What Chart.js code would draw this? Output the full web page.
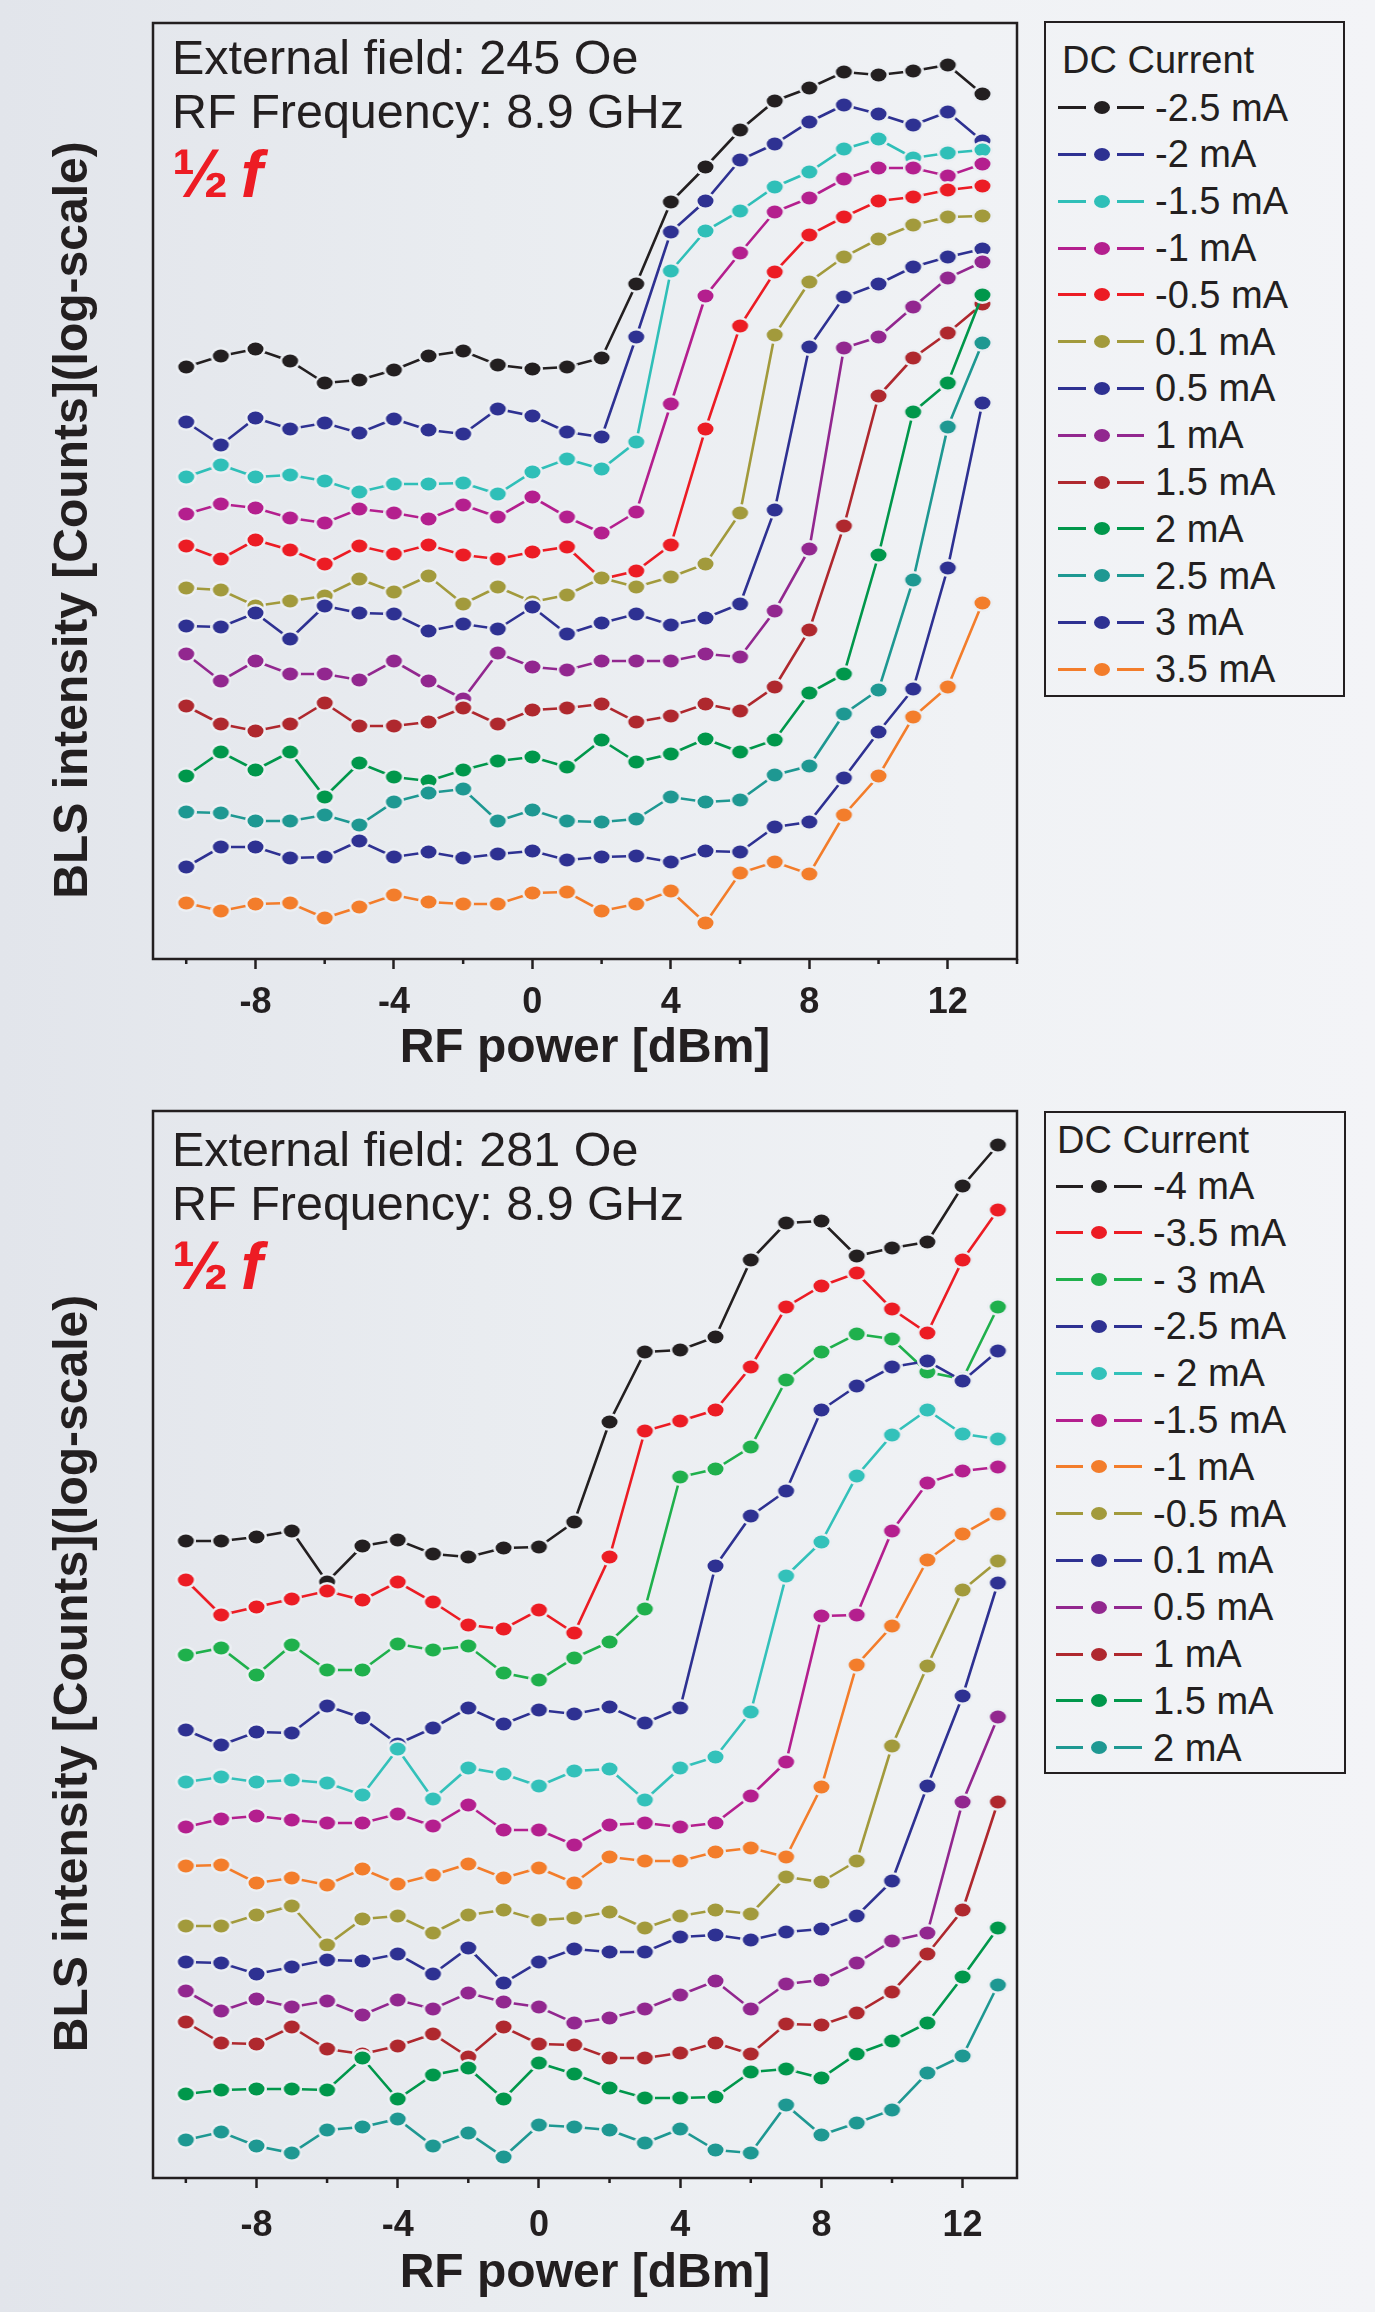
<!DOCTYPE html>
<html>
<head>
<meta charset="utf-8">
<title>BLS intensity vs RF power</title>
<script src="https://cdn.jsdelivr.net/npm/chart.js@4.4.1/dist/chart.umd.min.js"></script>
<style>
  html, body { margin: 0; padding: 0; }
  body {
    width: 1375px; height: 2312px; position: relative; overflow: hidden;
    background: linear-gradient(90deg, #e2e5eb 0%, #e9ecf0 35%, #f0f2f5 70%, #f3f4f7 100%);
    font-family: 'Liberation Sans', Arial, sans-serif; color: #231f20;
  }
  canvas { position: absolute; left: 0; }
  #topChart { top: 0; }
  #botChart { top: 1088px; }
  .box { position: absolute; box-sizing: border-box; border: 2.5px solid #231f20; }
  .lg-text { position: absolute; font-size: 38px; line-height: 44px; white-space: nowrap; }
  .lg-seg { position: absolute; height: 3px; }
  .lg-dot { position: absolute; width: 16px; height: 13px; border-radius: 50%; }
</style>
</head>
<body>
<canvas id="topChart" width="1030" height="1100"></canvas>
<canvas id="botChart" width="1030" height="1224"></canvas>
<div class="box" style="left:1044px;top:21px;width:301px;height:676px"></div>
<div class="box" style="left:1044px;top:1111px;width:302px;height:663px"></div>
<script>
const FONT = "'Liberation Sans', Arial, sans-serif";
const INK = '#231f20';
const HALO = '#eceff3';

// RF power [dBm]
const xs = [-10, -9, -8, -7, -6, -5, -4, -3, -2, -1, 0, 1, 2, 3, 4, 5, 6, 7, 8, 9, 10, 11, 12, 13];
const xTicks = [-10, -8, -6, -4, -2, 0, 2, 4, 6, 8, 10, 12, 14];
const minorTicks = [-10, -6, -2, 2, 6, 10, 14];

// upper panel: 245 Oe (intensity in arbitrary log units)
const topLabels = ['-2.5 mA', '-2 mA', '-1.5 mA', '-1 mA', '-0.5 mA', '0.1 mA', '0.5 mA', '1 mA', '1.5 mA', '2 mA', '2.5 mA', '3 mA', '3.5 mA'];
const topColors = ['#231f20', '#2e3192', '#2fbfb8', '#b41f8e', '#ec1c24', '#a29a3c', '#2e3192', '#92278f', '#af282e', '#00974b', '#1e9892', '#2e3192', '#f37d2b'];
const topM25 = [5.92, 6.03, 6.10, 5.98, 5.76, 5.79, 5.89, 6.03, 6.08, 5.94, 5.90, 5.92, 6.01, 6.75, 7.57, 7.92, 8.29, 8.58, 8.71, 8.87, 8.84, 8.88, 8.94, 8.65];
const topM20 = [5.37, 5.14, 5.41, 5.30, 5.36, 5.26, 5.40, 5.29, 5.25, 5.50, 5.43, 5.27, 5.22, 6.22, 7.27, 7.58, 7.99, 8.15, 8.37, 8.54, 8.45, 8.34, 8.47, 8.18];
const topM15 = [4.82, 4.94, 4.82, 4.84, 4.78, 4.67, 4.75, 4.75, 4.76, 4.65, 4.87, 5.00, 4.90, 5.17, 6.88, 7.28, 7.48, 7.72, 7.87, 8.10, 8.20, 8.01, 8.06, 8.09];
const topM10 = [4.45, 4.55, 4.51, 4.41, 4.36, 4.50, 4.46, 4.40, 4.54, 4.42, 4.62, 4.42, 4.26, 4.47, 5.55, 6.63, 7.06, 7.47, 7.61, 7.80, 7.91, 7.91, 7.83, 7.95];
const topM05 = [4.13, 4.00, 4.19, 4.09, 3.95, 4.13, 4.05, 4.14, 4.04, 4.00, 4.07, 4.12, 3.80, 3.88, 4.14, 5.30, 6.33, 6.87, 7.24, 7.42, 7.58, 7.62, 7.69, 7.73];
const topP01 = [3.71, 3.69, 3.53, 3.58, 3.63, 3.80, 3.67, 3.83, 3.55, 3.72, 3.57, 3.64, 3.81, 3.72, 3.82, 3.95, 4.46, 6.24, 6.77, 7.02, 7.20, 7.34, 7.42, 7.43];
const topP05 = [3.33, 3.32, 3.46, 3.20, 3.53, 3.46, 3.45, 3.28, 3.35, 3.30, 3.52, 3.25, 3.36, 3.45, 3.34, 3.41, 3.55, 4.49, 6.12, 6.62, 6.75, 6.92, 7.02, 7.10];
const topP10 = [3.05, 2.78, 2.98, 2.85, 2.85, 2.79, 2.98, 2.78, 2.60, 3.06, 2.92, 2.89, 2.98, 2.98, 2.98, 3.05, 3.02, 3.48, 4.10, 6.11, 6.22, 6.52, 6.81, 6.97];
const topP15 = [2.53, 2.35, 2.28, 2.35, 2.56, 2.33, 2.33, 2.37, 2.51, 2.35, 2.49, 2.51, 2.55, 2.37, 2.43, 2.55, 2.48, 2.72, 3.29, 4.33, 5.63, 6.01, 6.26, 6.55];
const topP20 = [1.83, 2.07, 1.89, 2.07, 1.62, 1.96, 1.82, 1.78, 1.89, 1.98, 2.02, 1.92, 2.19, 1.97, 2.05, 2.20, 2.07, 2.19, 2.66, 2.85, 4.04, 5.47, 5.76, 6.64];
const topP25 = [1.47, 1.46, 1.38, 1.38, 1.44, 1.34, 1.57, 1.66, 1.70, 1.38, 1.49, 1.38, 1.37, 1.40, 1.62, 1.57, 1.59, 1.84, 1.93, 2.45, 2.69, 3.79, 5.32, 6.16];
const topP30 = [0.92, 1.12, 1.12, 1.01, 1.02, 1.18, 1.02, 1.07, 1.01, 1.05, 1.08, 0.99, 1.02, 1.03, 0.97, 1.08, 1.07, 1.32, 1.37, 1.81, 2.27, 2.70, 3.91, 5.56];
const topP35 = [0.56, 0.48, 0.55, 0.56, 0.41, 0.52, 0.64, 0.57, 0.55, 0.55, 0.66, 0.67, 0.48, 0.55, 0.68, 0.36, 0.86, 0.97, 0.85, 1.44, 1.83, 2.42, 2.72, 3.56];

// lower panel: 281 Oe
const botLabels = ['-4 mA', '-3.5 mA', '- 3 mA', '-2.5 mA', '- 2 mA', '-1.5 mA', '-1 mA', '-0.5 mA', '0.1 mA', '0.5 mA', '1 mA', '1.5 mA', '2 mA'];
const botColors = ['#231f20', '#ec1c24', '#1fb04c', '#2e3192', '#33c1ba', '#b41f8e', '#f37d2b', '#a29a3c', '#2e3192', '#92278f', '#af282e', '#00974b', '#1e9892'];
const botM40 = [6.37, 6.37, 6.41, 6.47, 5.96, 6.32, 6.38, 6.24, 6.21, 6.30, 6.31, 6.56, 7.56, 8.26, 8.28, 8.41, 9.18, 9.55, 9.57, 9.22, 9.30, 9.36, 9.92, 10.33];
const botM35 = [5.98, 5.63, 5.71, 5.79, 5.87, 5.78, 5.96, 5.76, 5.53, 5.49, 5.68, 5.45, 6.21, 7.47, 7.57, 7.68, 8.11, 8.71, 8.92, 9.05, 8.69, 8.45, 9.18, 9.68];
const botM30 = [5.23, 5.30, 5.03, 5.33, 5.08, 5.08, 5.34, 5.28, 5.32, 5.05, 4.98, 5.20, 5.36, 5.69, 7.01, 7.09, 7.31, 7.98, 8.26, 8.44, 8.39, 8.06, 7.99, 8.71];
const botM25 = [4.48, 4.33, 4.46, 4.45, 4.72, 4.60, 4.34, 4.50, 4.70, 4.54, 4.68, 4.64, 4.71, 4.55, 4.70, 6.12, 6.62, 6.87, 7.68, 7.92, 8.11, 8.17, 7.97, 8.27];
const botM20 = [3.96, 4.01, 3.96, 3.98, 3.95, 3.83, 4.29, 3.79, 4.10, 4.04, 3.92, 4.07, 4.09, 3.78, 4.10, 4.21, 4.66, 6.02, 6.36, 7.02, 7.43, 7.68, 7.44, 7.39];
const botM15 = [3.51, 3.59, 3.62, 3.58, 3.55, 3.55, 3.64, 3.52, 3.73, 3.48, 3.48, 3.33, 3.53, 3.55, 3.51, 3.55, 3.82, 4.16, 5.62, 5.63, 6.47, 6.95, 7.07, 7.11];
const botM10 = [3.12, 3.13, 2.95, 3.00, 2.93, 3.09, 2.94, 3.03, 3.14, 3.00, 3.10, 2.95, 3.21, 3.17, 3.17, 3.26, 3.30, 3.21, 3.91, 5.13, 5.52, 6.18, 6.44, 6.64];
const botM05 = [2.52, 2.52, 2.63, 2.72, 2.33, 2.59, 2.62, 2.45, 2.63, 2.68, 2.58, 2.60, 2.66, 2.50, 2.62, 2.68, 2.64, 3.01, 2.96, 3.17, 4.32, 5.12, 5.88, 6.17];
const botP01 = [2.16, 2.15, 2.04, 2.11, 2.18, 2.17, 2.24, 2.04, 2.30, 1.95, 2.16, 2.29, 2.26, 2.26, 2.41, 2.43, 2.38, 2.46, 2.49, 2.62, 2.97, 3.92, 4.82, 5.95];
const botP05 = [1.87, 1.67, 1.79, 1.71, 1.77, 1.63, 1.78, 1.69, 1.85, 1.76, 1.71, 1.55, 1.60, 1.69, 1.83, 1.97, 1.69, 1.94, 1.98, 2.15, 2.37, 2.45, 3.76, 4.61];
const botP10 = [1.56, 1.35, 1.34, 1.51, 1.29, 1.24, 1.32, 1.44, 1.21, 1.51, 1.34, 1.33, 1.20, 1.20, 1.25, 1.35, 1.24, 1.54, 1.53, 1.65, 1.86, 2.24, 2.68, 3.76];
const botP15 = [0.84, 0.88, 0.89, 0.89, 0.88, 1.20, 0.79, 1.03, 1.10, 0.79, 1.15, 1.04, 0.90, 0.80, 0.80, 0.81, 1.06, 1.09, 1.00, 1.24, 1.37, 1.55, 2.01, 2.50];
const botP20 = [0.38, 0.46, 0.32, 0.25, 0.48, 0.51, 0.59, 0.32, 0.45, 0.21, 0.53, 0.51, 0.48, 0.35, 0.49, 0.28, 0.25, 0.73, 0.43, 0.55, 0.68, 1.05, 1.22, 1.93];

// oval marker with a gap ring, like the symbols of the original plot
function dotImage(color) {
  const w = 16, h = 13, pad = 2.5;
  const c = document.createElement('canvas');
  c.width = w + 2 * pad; c.height = h + 2 * pad;
  const g = c.getContext('2d');
  g.fillStyle = HALO;
  g.beginPath(); g.ellipse(c.width / 2, c.height / 2, w / 2 + pad, h / 2 + pad, 0, 0, Math.PI * 2); g.fill();
  g.fillStyle = color;
  g.beginPath(); g.ellipse(c.width / 2, c.height / 2, w / 2, h / 2, 0, 0, Math.PI * 2); g.fill();
  return c;
}

// frame, minor ticks, y title and the notes in the corner
const decor = {
  id: 'decor',
  afterDraw(chart, args, o) {
    const { ctx, chartArea: a } = chart;
    const x = chart.scales.x;
    ctx.save();
    ctx.strokeStyle = INK;
    ctx.lineWidth = 2.5;
    ctx.strokeRect(a.left, a.top, a.right - a.left, a.bottom - a.top);
    ctx.beginPath();
    minorTicks.filter(v => v <= x.max).forEach(v => {
      const px = x.getPixelForValue(v);
      ctx.moveTo(px, a.bottom);
      ctx.lineTo(px, a.bottom + 5);
    });
    ctx.stroke();

    ctx.fillStyle = INK;
    ctx.font = 'bold 48px ' + FONT;
    ctx.textAlign = 'center';
    ctx.textBaseline = 'middle';
    ctx.save();
    ctx.translate(74, (a.top + a.bottom) / 2 + 29);
    ctx.rotate(-Math.PI / 2);
    ctx.fillText('BLS intensity [Counts](log-scale)', 0, 0);
    ctx.restore();

    ctx.textAlign = 'left';
    ctx.textBaseline = 'alphabetic';
    ctx.font = '48.5px ' + FONT;
    const lx = a.left + 19;
    ctx.fillText('External field: ' + o.field, lx, a.top + o.noteY[0]);
    ctx.fillText('RF Frequency: ' + o.freq, lx, a.top + o.noteY[1]);
    ctx.fillStyle = '#ed1c24';
    ctx.font = 'bold 68px ' + FONT;
    ctx.fillText('\u00bd', lx, a.top + o.noteY[2]);
    const w = ctx.measureText('\u00bd').width;
    ctx.font = 'italic bold 66px ' + FONT;
    ctx.fillText('f', lx + w + 12, a.top + o.noteY[2]);
    ctx.restore();
  }
};

function makeChart(id, p) {
  return new Chart(document.getElementById(id), {
    type: 'line',
    data: {
      datasets: p.series.map((vals, i) => ({
        label: p.labels[i],
        data: vals.map((v, j) => ({ x: xs[j], y: v })),
        borderColor: p.colors[i],
        backgroundColor: p.colors[i],
        borderWidth: 2.6,
        tension: 0,
        pointStyle: dotImage(p.colors[i]),
        pointRadius: 8,
        pointHoverRadius: 8,
        order: p.series.length - i
      }))
    },
    options: {
      responsive: false,
      animation: false,
      devicePixelRatio: 1,
      events: [],
      layout: { padding: { left: 153, top: 23, right: 13, bottom: 0 } },
      plugins: {
        legend: { display: false },
        tooltip: { enabled: false },
        decor: p.decor
      },
      scales: {
        x: {
          type: 'linear',
          min: p.xMin,
          max: p.xMax,
          afterBuildTicks: s => { s.ticks = xTicks.filter(v => v <= p.xMax).map(v => ({ value: v })); },
          afterFit: s => { s.height = p.xAxisHeight; },
          border: { display: false },
          grid: {
            drawOnChartArea: false,
            drawTicks: true,
            tickLength: 10,
            tickWidth: 2.5,
            tickColor: c => (c.tick && c.tick.value % 4 === 0) ? INK : 'rgba(0,0,0,0)'
          },
          ticks: {
            autoSkip: false,
            maxRotation: 0,
            padding: p.tickPad,
            color: INK,
            font: { family: FONT, size: 36, weight: 'bold' },
            callback: v => (v % 4 === 0 ? String(v) : '')
          },
          title: {
            display: true,
            text: 'RF power [dBm]',
            color: INK,
            font: { family: FONT, size: 48, weight: 'bold' },
            padding: { top: 0, bottom: p.titlePad }
          }
        },
        y: { display: false, min: 0, max: p.yMax }
      }
    },
    plugins: [decor]
  });
}

function buildLegend(labels, colors, g) {
  const add = (cls, css, text) => {
    const d = document.createElement('div');
    d.className = cls;
    Object.assign(d.style, css);
    if (text) d.textContent = text;
    document.body.appendChild(d);
  };
  add('lg-text', { left: g.titleX + 'px', top: (g.titleY - 22) + 'px' }, 'DC Current');
  labels.forEach((lab, i) => {
    const cy = g.rowY0 + i * g.dy;
    add('lg-seg', { left: g.segL[0] + 'px', width: (g.segL[1] - g.segL[0]) + 'px', top: (cy - 1.5) + 'px', background: colors[i] });
    add('lg-seg', { left: g.segR[0] + 'px', width: (g.segR[1] - g.segR[0]) + 'px', top: (cy - 1.5) + 'px', background: colors[i] });
    add('lg-dot', { left: (g.dotX - 8) + 'px', top: (cy - 6.5) + 'px', background: colors[i] });
    add('lg-text', { left: g.textX + 'px', top: (cy - 22) + 'px' }, lab);
  });
}

makeChart('topChart', {
  series: [topM25, topM20, topM15, topM10, topM05, topP01, topP05, topP10, topP15, topP20, topP25, topP30, topP35],
  labels: topLabels,
  colors: topColors,
  xMin: -10.96, xMax: 14.0, yMax: 9.36,
  xAxisHeight: 141, tickPad: 12, titlePad: 22,
  decor: { field: '245 Oe', freq: '8.9 GHz', noteY: [51, 105, 174] }
});

makeChart('botChart', {
  series: [botM40, botM35, botM30, botM25, botM20, botM15, botM10, botM05, botP01, botP05, botP10, botP15, botP20],
  labels: botLabels,
  colors: botColors,
  xMin: -10.93, xMax: 13.54, yMax: 10.67,
  xAxisHeight: 134, tickPad: 16, titlePad: 9,
  decor: { field: '281 Oe', freq: '8.9 GHz', noteY: [55, 109, 178] }
});

buildLegend(topLabels, topColors, { titleX: 1062, titleY: 60, rowY0: 107.6, dy: 46.8, segL: [1058, 1086], dotX: 1101.7, segR: [1117, 1144], textX: 1155 });
buildLegend(botLabels, botColors, { titleX: 1057, titleY: 1140, rowY0: 1186, dy: 46.8, segL: [1056, 1083], dotX: 1099, segR: [1114, 1142], textX: 1153 });
</script>
</body>
</html>
